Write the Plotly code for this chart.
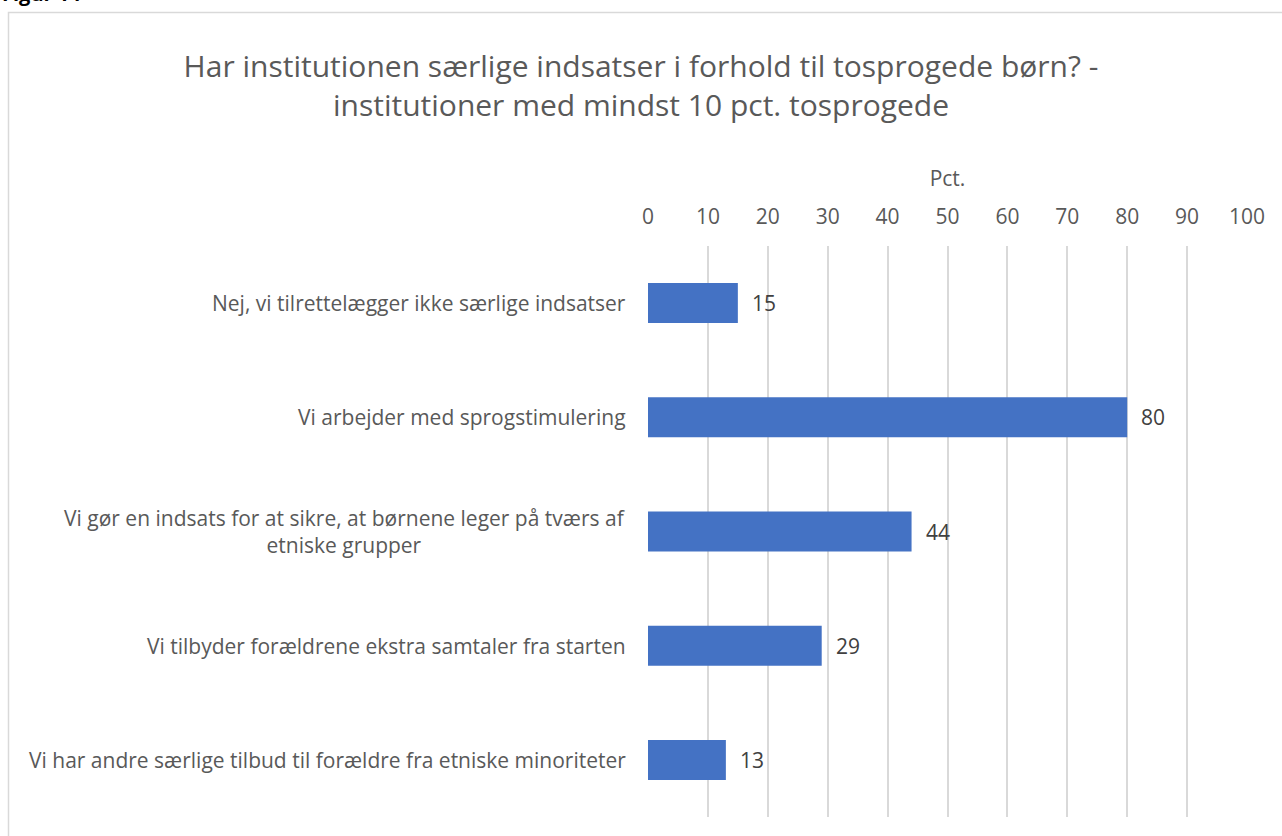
import plotly.graph_objects as go

categories = [
    "Nej, vi tilrettelægger ikke særlige indsatser",
    "Vi arbejder med sprogstimulering",
    "Vi gør en indsats for at sikre, at børnene leger på tværs af<br>etniske grupper",
    "Vi tilbyder forældrene ekstra samtaler fra starten",
    "Vi har andre særlige tilbud til forældre fra etniske minoriteter",
]
values = [15, 80, 44, 29, 13]
tick_vals = [0, 10, 20, 30, 40, 50, 60, 70, 80, 90, 100]
title_text = "Har institutionen særlige indsatser i forhold til tosprogede børn? -<br>institutioner med mindst 10 pct. tosprogede"
axis_title = "Pct."
figure_label = "Figur 14"

W, H = 1282, 836
L, R, T, B = 648, 35, 246, 19
pw, ph = W - L - R, H - T - B
FONT = "Open Sans"
GREY = "#595959"
LS = 21

def px_x(p):
    return (p - L) / pw

def px_y(p):
    return 1 - (p - T) / ph

fig = go.Figure(go.Bar(
    x=values, y=categories, orientation="h",
    marker=dict(color="#4472C4", line=dict(width=0)),
    width=0.35, hoverinfo="x+y",
))

annotations = []
for c, v in zip(categories, values):
    annotations.append(dict(x=0, y=c, xref="paper", yref="y", text=c, showarrow=False,
                            xanchor="right", yanchor="middle", align="center", xshift=-20,
                            font=dict(family=FONT, size=LS, color=GREY)))
    annotations.append(dict(x=v, y=c, xref="x", yref="y", text=str(v), showarrow=False,
                            xanchor="left", yanchor="middle", xshift=12,
                            font=dict(family=FONT, size=LS, color="#404040")))
annotations.append(dict(x=px_x(0), y=px_y(9), xref="paper", yref="paper", text="<b>" + figure_label + "</b>",
                        showarrow=False, xanchor="left", yanchor="bottom",
                        font=dict(family=FONT, size=20, color="#000000")))

fig.update_layout(
    width=W, height=H,
    margin=dict(l=L, r=R, t=T, b=B, pad=0),
    paper_bgcolor="white", plot_bgcolor="white",
    showlegend=False,
    title=dict(text=title_text, x=0.5, xref="container", xanchor="center", y=1 - 77 / H, yanchor="middle",
               yref="container",
               font=dict(family=FONT, size=30, color=GREY)),
    font=dict(family=FONT, size=LS, color=GREY),
    xaxis=dict(range=[0, 100], tickvals=tick_vals, side="top", showgrid=True,
               gridcolor="#D9D9D9", gridwidth=1.5, zeroline=False, showline=False,
               ticks="", ticklabelstandoff=17,
               tickfont=dict(family=FONT, size=LS, color=GREY),
               title=dict(text=axis_title, standoff=9, font=dict(family=FONT, size=LS, color=GREY))),
    yaxis=dict(autorange="reversed", showticklabels=False, showgrid=False, zeroline=False,
               showline=False, ticks=""),
    annotations=annotations,
    shapes=[dict(type="rect", xref="paper", yref="paper",
                 x0=px_x(8.5), x1=px_x(1300), y0=px_y(12.5), y1=px_y(900),
                 line=dict(color="#D9D9D9", width=1.5), fillcolor="rgba(0,0,0,0)", layer="below")],
)

fig.write_html("out.html", config={"displayModeBar": False},
               post_script="document.body.style.margin='0';document.body.style.overflow='hidden';")
